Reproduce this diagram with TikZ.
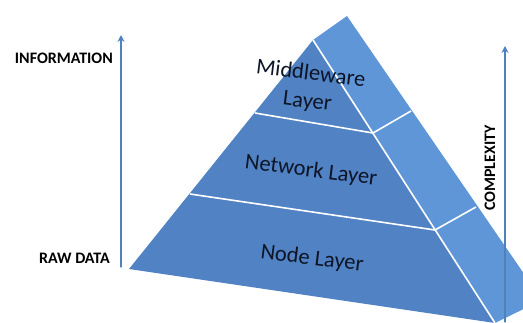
\documentclass[tikz,border=0pt]{standalone}
\usepackage{fontspec}
\setmainfont{Carlito}
\usepackage{xcolor}
\usetikzlibrary{arrows.meta}
\definecolor{front}{HTML}{5182C3}
\definecolor{side}{HTML}{5E96D8}
\definecolor{axis}{HTML}{4F81BD}
\definecolor{ink}{HTML}{0D1526}

\begin{document}
\begin{tikzpicture}[x=1pt,y=-1pt,line cap=round,line join=round,
  layer/.style={text=ink,font=\fontsize{22.5}{28}\selectfont,align=center,rotate=-7,inner sep=0pt},
  axislabel/.style={text=black,font=\fontsize{16}{19}\selectfont\bfseries,inner sep=0pt},
  axisarrow/.style={axis,line width=1.3pt,-{Stealth[length=7pt,width=7pt,inset=2.5pt]}},
  seam/.style={white,line width=1.6pt,line cap=butt}]
  \useasboundingbox (0,0) rectangle (523,322);

  % Corner points of the pyramid (pixel grid, y downwards).
  \coordinate (apex) at (347,16);
  \coordinate (top) at (313,40);
  \coordinate (left) at (129,269);
  \coordinate (foot) at (495,323);
  \coordinate (far) at (542,300);

  \begin{scope}
    \clip (0,0) rectangle (523,322);
    % Lighter side face, runs off the right border.
    \fill[side] (top)--(apex)--(far)--(foot)--cycle;
    % Front face.
    \fill[front] (top)--(left)--(foot)--cycle;
    % White seams between the three layers.
    \draw[seam] (top)--(foot);
    \draw[seam] (255,113)--(373,133)--(411,111);
    \draw[seam] (190,194)--(435,230)--(476,207);
  \end{scope}

  % Layer names, tilted with the front face.
  \node[layer] (mid) at (309,88) {Middleware\\Layer};
  \node[layer] (net) at (311,171) {Network Layer};
  \node[layer] (base) at (312,259) {Node Layer};

  % Left axis: raw data up to information.
  \coordinate (infolow) at (121,267);
  \coordinate (infohigh) at (121,35);
  \draw[axisarrow] (infolow)--(infohigh);
  \node[axislabel,anchor=east] (info) at (113,58) {INFORMATION};
  \node[axislabel,anchor=east] (raw) at (110,258) {RAW DATA};

  % Right axis: complexity.
  \coordinate (cplxlow) at (505,322);
  \coordinate (cplxhigh) at (505,46);
  \draw[axisarrow] (cplxlow)--(cplxhigh);
  \node[axislabel,rotate=90] (cplx) at (490,168) {COMPLEXITY};
\end{tikzpicture}
\end{document}
